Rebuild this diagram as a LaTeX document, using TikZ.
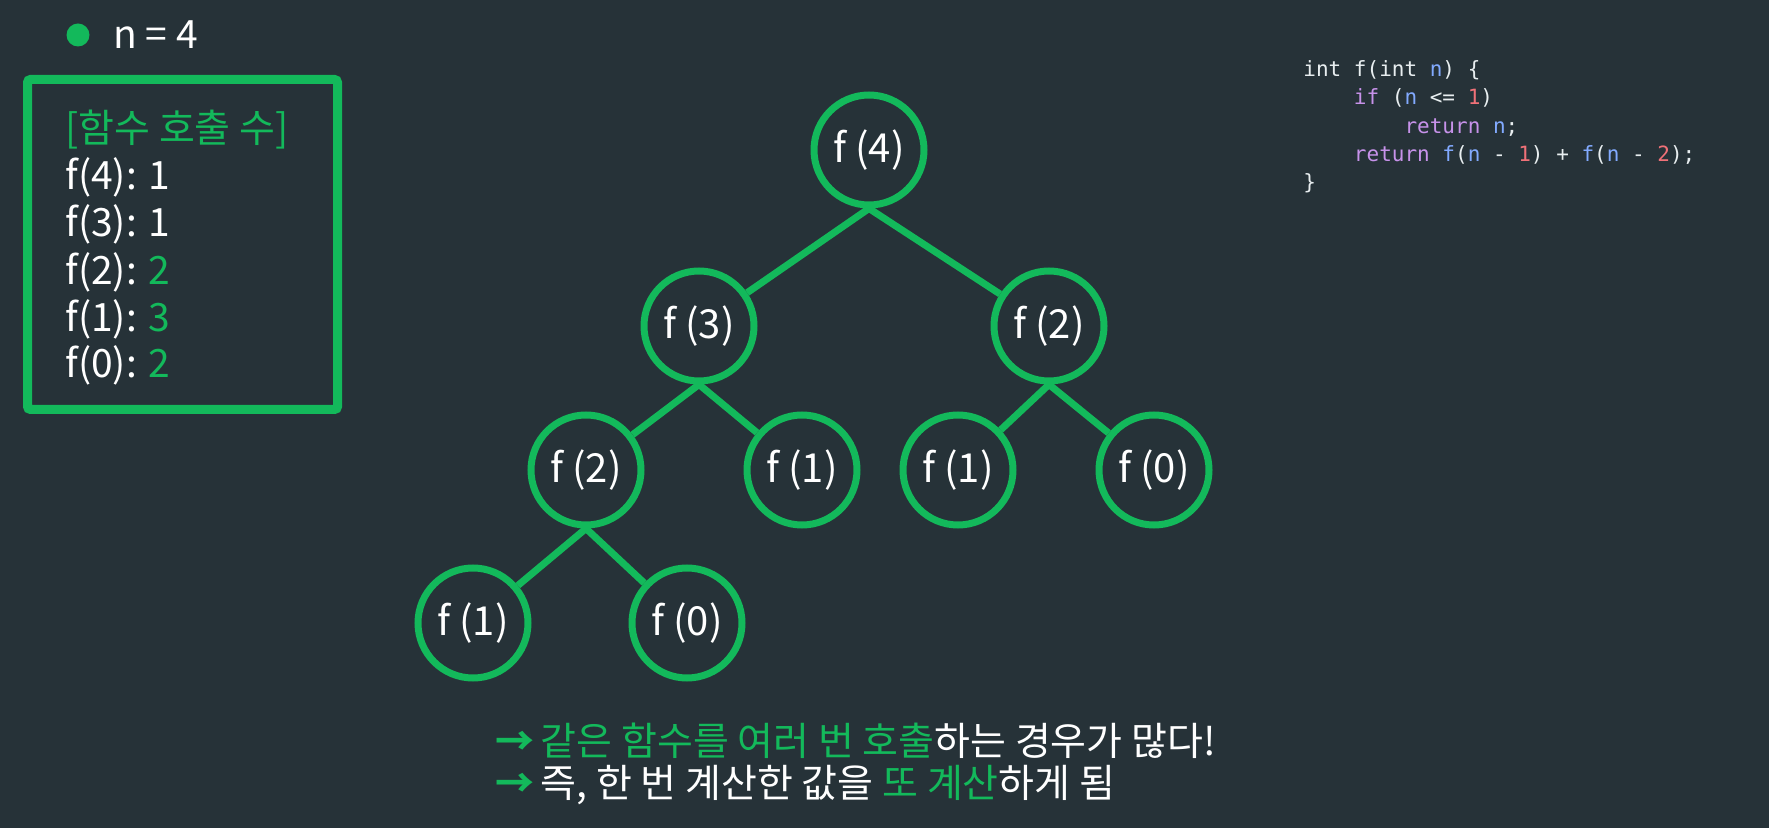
\documentclass[tikz,border=0pt]{standalone}
\usepackage{fontspec}
\setmainfont{Noto Sans CJK KR}
\setmonofont{DejaVu Sans Mono}
\usetikzlibrary{positioning}
\definecolor{bgDark}{HTML}{263238}
\definecolor{fGreen}{HTML}{13B95B}
\definecolor{cWhite}{HTML}{E8EEF0}
\definecolor{cPurple}{HTML}{C792EA}
\definecolor{cBlue}{HTML}{82AAFF}
\definecolor{cRed}{HTML}{F07178}
\newcommand{\codekw}[1]{\textcolor{cPurple}{#1}}
\newcommand{\codevar}[1]{\textcolor{cBlue}{#1}}
\newcommand{\codenum}[1]{\textcolor{cRed}{#1}}
\newcommand{\gtxt}[1]{\textcolor{fGreen}{#1}}
\newcommand{\noteArrow}{\textcolor{fGreen}{\textbf{→}}}
\tikzset{
  fnode/.style={draw=fGreen, circle, line width=3.5pt, minimum size=55pt,
                inner sep=0pt, text=white, font=\fontsize{20}{24}\selectfont},
  fedge/.style={fGreen, line width=3.5pt},
  cntbox/.style={draw=fGreen, line width=4.5pt, rounded corners=1.5pt,
                 minimum width=155pt, minimum height=165pt, inner sep=0pt},
  cntline/.style={anchor=base west, inner sep=0pt, text=white,
                  font=\fontsize{19.5}{23}\selectfont},
  codeline/.style={anchor=base west, inner sep=0pt, text=cWhite,
                   font=\ttfamily\fontsize{10.5}{12}\selectfont},
  noteline/.style={anchor=base west, inner sep=0pt, text=white,
                   font=\fontsize{19.5}{23}\selectfont},
}
\begin{document}
\begin{tikzpicture}[x=0.5pt, y=-0.5pt]
    \fill[bgDark] (0,0) rectangle (1769,828);
    % n = 4
    \node[circle, fill=fGreen, minimum size=11.5pt, inner sep=0pt] (dot) at (78,35) {};
    \node[cntline] (nval) at (113,49) {n = 4};
    % call count box
    \node[cntbox] (cnt) at (182.5,244.5) {};
    \node[cntline, text=fGreen] (hdr) at (65,143) {[함수 호출 수]};
    \node[cntline] (c4) at (65,190) {f(4): 1};
    \node[cntline] (c3) at (65,237) {f(3): 1};
    \node[cntline] (c2) at (65,285) {f(2): \gtxt{2}};
    \node[cntline] (c1) at (65,332) {f(1): \gtxt{3}};
    \node[cntline] (c0) at (65,378) {f(0): \gtxt{2}};
    % call tree
    \node[fnode] (f4)  at (869,150) {f (4)};
    \node[fnode] (f3)  at (699,326) {f (3)};
    \node[fnode] (f2r) at (1049,326) {f (2)};
    \node[fnode] (f2l) at (586,470) {f (2)};
    \node[fnode] (f1m) at (802,470) {f (1)};
    \node[fnode] (f1r) at (958,470) {f (1)};
    \node[fnode] (f0r) at (1154,470) {f (0)};
    \node[fnode] (f1b) at (473,623) {f (1)};
    \node[fnode] (f0b) at (687,623) {f (0)};
    \draw[fedge] (f4.south)  -- (f3);
    \draw[fedge] (f4.south)  -- (f2r);
    \draw[fedge] (f3.south)  -- (f2l);
    \draw[fedge] (f3.south)  -- (f1m);
    \draw[fedge] (f2r.south) -- (f1r);
    \draw[fedge] (f2r.south) -- (f0r);
    \draw[fedge] (f2l.south) -- (f1b);
    \draw[fedge] (f2l.south) -- (f0b);
    % source code
    \node[codeline] (code1) at (1303,77)  {int f(int \codevar{n}) \{};
    \node[codeline] (code2) at (1303,105) {\phantom{0000}\codekw{if} (\codevar{n} <= \codenum{1})};
    \node[codeline] (code3) at (1303,134) {\phantom{00000000}\codekw{return} \codevar{n};};
    \node[codeline] (code4) at (1303,162) {\phantom{0000}\codekw{return} \codevar{f}(\codevar{n} - \codenum{1}) + \codevar{f}(\codevar{n} - \codenum{2});};
    \node[codeline] (code5) at (1303,190) {\}};
    % notes
    \node[noteline] (note1) at (495,755) {\noteArrow\,\gtxt{같은 함수를 여러 번 호출}하는 경우가 많다!};
    \node[noteline] (note2) at (495,798) {\noteArrow\,즉, 한 번 계산한 값을 \gtxt{또 계산}하게 됨};
\end{tikzpicture}
\end{document}
